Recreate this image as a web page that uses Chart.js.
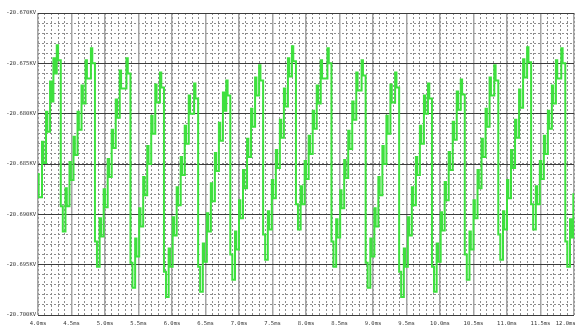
<!DOCTYPE html>
<html>
<head>
<meta charset="utf-8">
<script src="https://cdn.jsdelivr.net/npm/chart.js@4"></script>
<style>
  html, body { margin: 0; padding: 0; background: #fff; }
  #wave { display: block; }
</style>
</head>
<body>
<canvas id="wave" width="577" height="329"></canvas>
<script>
// Waveform (time in ms, value in kV)
const timeMs = [
  4.00, 4.01, 4.06, 4.08, 4.12, 4.14, 4.18, 4.20, 4.23, 4.25,
  4.28, 4.30, 4.34, 4.37, 4.41, 4.43, 4.47, 4.49, 4.53, 4.55, 4.59, 4.61, 4.65, 4.67, 4.71, 4.73,
  4.79, 4.81, 4.85, 4.88, 4.92, 4.94, 4.98, 5.00, 5.04, 5.06, 5.10, 5.12, 5.16, 5.18, 5.22, 5.24,
  5.32, 5.34, 5.38, 5.41, 5.45, 5.47, 5.51, 5.53, 5.57, 5.59, 5.63, 5.65, 5.69, 5.71, 5.75, 5.77,
  5.82, 5.84, 5.88, 5.91, 5.95, 5.97, 6.01, 6.03, 6.07, 6.09, 6.13, 6.15, 6.19, 6.21, 6.25, 6.27,
  6.33, 6.35, 6.39, 6.42, 6.46, 6.48, 6.52, 6.54, 6.58, 6.60, 6.64, 6.66, 6.70, 6.72, 6.76, 6.78,
  6.81, 6.83, 6.87, 6.90, 6.94, 6.96, 7.00, 7.02, 7.06, 7.08, 7.12, 7.14, 7.18, 7.20, 7.24, 7.26,
  7.30, 7.32, 7.36, 7.39, 7.43, 7.45, 7.49, 7.51, 7.55, 7.57, 7.61, 7.63, 7.67, 7.69, 7.73, 7.75,
  7.79, 7.81, 7.85, 7.88, 7.92, 7.94, 7.98, 8.00, 8.04, 8.06, 8.10, 8.12, 8.16, 8.18, 8.22, 8.24,
  8.32, 8.34, 8.38, 8.41, 8.45, 8.47, 8.51, 8.53, 8.57, 8.59, 8.63, 8.65, 8.69, 8.71, 8.75, 8.77,
  8.83, 8.85, 8.89, 8.92, 8.96, 8.98, 9.02, 9.04, 9.08, 9.10, 9.14, 9.16, 9.20, 9.22, 9.26, 9.28,
  9.33, 9.35, 9.39, 9.42, 9.46, 9.48, 9.52, 9.54, 9.58, 9.60, 9.64, 9.66, 9.70, 9.72, 9.76, 9.78,
  9.82, 9.84, 9.88, 9.91, 9.95, 9.97, 10.01, 10.03, 10.07, 10.09, 10.13, 10.15, 10.19, 10.21, 10.25, 10.27,
  10.31, 10.33, 10.37, 10.40, 10.44, 10.46, 10.50, 10.52, 10.56, 10.58, 10.62, 10.64, 10.68, 10.70, 10.74, 10.76,
  10.81, 10.83, 10.87, 10.90, 10.94, 10.96, 11.00, 11.02, 11.06, 11.08, 11.12, 11.14, 11.18, 11.20, 11.24, 11.26,
  11.30, 11.32, 11.36, 11.39, 11.43, 11.45, 11.49, 11.51, 11.55, 11.57, 11.61, 11.63, 11.67, 11.69, 11.73, 11.75,
  11.81, 11.83, 11.87, 11.90, 11.94, 11.96, 11.99, 12.00
];

const voltKV = [
  -20.6860, -20.6883, -20.6828, -20.6849, -20.6798, -20.6818, -20.6768, -20.6788, -20.6745, -20.6760,
  -20.6732, -20.6747, -20.6892, -20.6917, -20.6874, -20.6892, -20.6848, -20.6866, -20.6823, -20.6841, -20.6798, -20.6816, -20.6772, -20.6790, -20.6747, -20.6765,
  -20.6735, -20.6750, -20.6927, -20.6952, -20.6904, -20.6922, -20.6875, -20.6893, -20.6845, -20.6863, -20.6816, -20.6834, -20.6786, -20.6804, -20.6757, -20.6775,
  -20.6745, -20.6760, -20.6948, -20.6973, -20.6924, -20.6942, -20.6894, -20.6912, -20.6863, -20.6881, -20.6832, -20.6850, -20.6802, -20.6820, -20.6771, -20.6789,
  -20.6759, -20.6774, -20.6957, -20.6982, -20.6934, -20.6952, -20.6903, -20.6921, -20.6873, -20.6891, -20.6843, -20.6861, -20.6812, -20.6830, -20.6782, -20.6800,
  -20.6770, -20.6785, -20.6952, -20.6977, -20.6929, -20.6947, -20.6899, -20.6917, -20.6869, -20.6887, -20.6839, -20.6857, -20.6809, -20.6827, -20.6779, -20.6797,
  -20.6767, -20.6782, -20.6940, -20.6965, -20.6917, -20.6935, -20.6886, -20.6904, -20.6856, -20.6874, -20.6825, -20.6843, -20.6795, -20.6813, -20.6764, -20.6782,
  -20.6752, -20.6767, -20.6920, -20.6945, -20.6897, -20.6915, -20.6866, -20.6884, -20.6836, -20.6854, -20.6806, -20.6824, -20.6775, -20.6793, -20.6745, -20.6763,
  -20.6733, -20.6748, -20.6890, -20.6915, -20.6872, -20.6890, -20.6847, -20.6865, -20.6822, -20.6840, -20.6797, -20.6815, -20.6772, -20.6790, -20.6747, -20.6765,
  -20.6735, -20.6750, -20.6927, -20.6952, -20.6905, -20.6923, -20.6876, -20.6894, -20.6846, -20.6864, -20.6817, -20.6835, -20.6788, -20.6806, -20.6759, -20.6777,
  -20.6747, -20.6762, -20.6948, -20.6973, -20.6924, -20.6942, -20.6894, -20.6912, -20.6863, -20.6881, -20.6832, -20.6850, -20.6802, -20.6820, -20.6771, -20.6789,
  -20.6759, -20.6774, -20.6957, -20.6982, -20.6934, -20.6952, -20.6903, -20.6921, -20.6873, -20.6891, -20.6843, -20.6861, -20.6812, -20.6830, -20.6782, -20.6800,
  -20.6770, -20.6785, -20.6952, -20.6977, -20.6929, -20.6947, -20.6898, -20.6916, -20.6868, -20.6886, -20.6838, -20.6856, -20.6808, -20.6826, -20.6778, -20.6796,
  -20.6766, -20.6781, -20.6940, -20.6965, -20.6917, -20.6935, -20.6886, -20.6904, -20.6856, -20.6874, -20.6825, -20.6843, -20.6795, -20.6813, -20.6764, -20.6782,
  -20.6752, -20.6767, -20.6920, -20.6945, -20.6897, -20.6915, -20.6866, -20.6884, -20.6836, -20.6854, -20.6806, -20.6824, -20.6776, -20.6794, -20.6746, -20.6764,
  -20.6734, -20.6749, -20.6890, -20.6915, -20.6872, -20.6890, -20.6847, -20.6865, -20.6822, -20.6840, -20.6797, -20.6815, -20.6772, -20.6790, -20.6747, -20.6765,
  -20.6735, -20.6750, -20.6927, -20.6952, -20.6905, -20.6923, -20.6880, -20.6895
];

// Axis ranges / tick spacing
const timeRange = [4.0, 12.0];
const timeMajorStep = 0.5;
const timeMinorStep = 0.1;
const voltRange = [-20.700, -20.670];
const voltMajorStep = 0.005;
const voltMinorStep = 0.001;

const LABEL_FONT = { family: 'DejaVu Sans Mono', size: 5.5 };

document.addEventListener('DOMContentLoaded', () => {
  renderWave();
});

function renderWave() {
  const canvas = document.getElementById('wave');
  const points = timeMs.map((t, i) => ({ x: t, y: voltKV[i] }));

  new Chart(canvas, {
    type: 'line',
    data: {
      datasets: [{
        data: points,
        borderColor: '#3ee03e',
        borderWidth: 2,
        stepped: true,
        pointRadius: 0,
        fill: false,
      }]
    },
    options: {
      responsive: false,
      animation: false,
      devicePixelRatio: 1,
      layout: { padding: { top: 13, right: 3, left: 0, bottom: 0 } },
      plugins: {
        legend: { display: false },
        tooltip: { enabled: false },
      },
      scales: {
        xMinor: {
          type: 'linear',
          position: 'bottom',
          min: timeRange[0], max: timeRange[1],
          ticks: { display: false, stepSize: timeMinorStep },
          grid: { color: '#8c8c8c', lineWidth: 1, drawTicks: false, z: -2 },
          border: { display: false, dash: [2, 2] },
          afterFit: (s) => { s.height = 0; s.paddingLeft = 0; s.paddingRight = 0; },
        },
        yMinor: {
          type: 'linear',
          position: 'left',
          min: voltRange[0], max: voltRange[1],
          ticks: { display: false, stepSize: voltMinorStep },
          grid: { color: '#8c8c8c', lineWidth: 1, drawTicks: false, z: -2 },
          border: { display: false, dash: [2, 2] },
          afterFit: (s) => { s.width = 0; },
        },
        x: {
          type: 'linear',
          position: 'bottom',
          min: timeRange[0], max: timeRange[1],
          grid: { color: '#a4a4a4', lineWidth: 1.5, drawTicks: false },
          border: { display: false },
          ticks: {
            stepSize: timeMajorStep,
            autoSkip: false,
            maxRotation: 0,
            padding: 5,
            color: '#333',
            font: LABEL_FONT,
            callback: (v, i, ticks) => {
              const label = v.toFixed(1) + 'ms';
              return i === ticks.length - 1 ? label + '     ' : label;
            },
          },
          afterFit: (s) => { s.height = 14; s.paddingLeft = 0; s.paddingRight = 0; },
        },
        y: {
          type: 'linear',
          position: 'left',
          min: voltRange[0], max: voltRange[1],
          grid: { color: '#3c3c3c', lineWidth: 1, drawTicks: false },
          border: { display: false },
          ticks: {
            stepSize: voltMajorStep,
            padding: 2,
            color: '#333',
            font: LABEL_FONT,
            callback: (v) => v.toFixed(3) + 'KV',
          },
          afterFit: (s) => { s.width = 38; },
        }
      }
    }
  });
}
</script>
</body>
</html>
